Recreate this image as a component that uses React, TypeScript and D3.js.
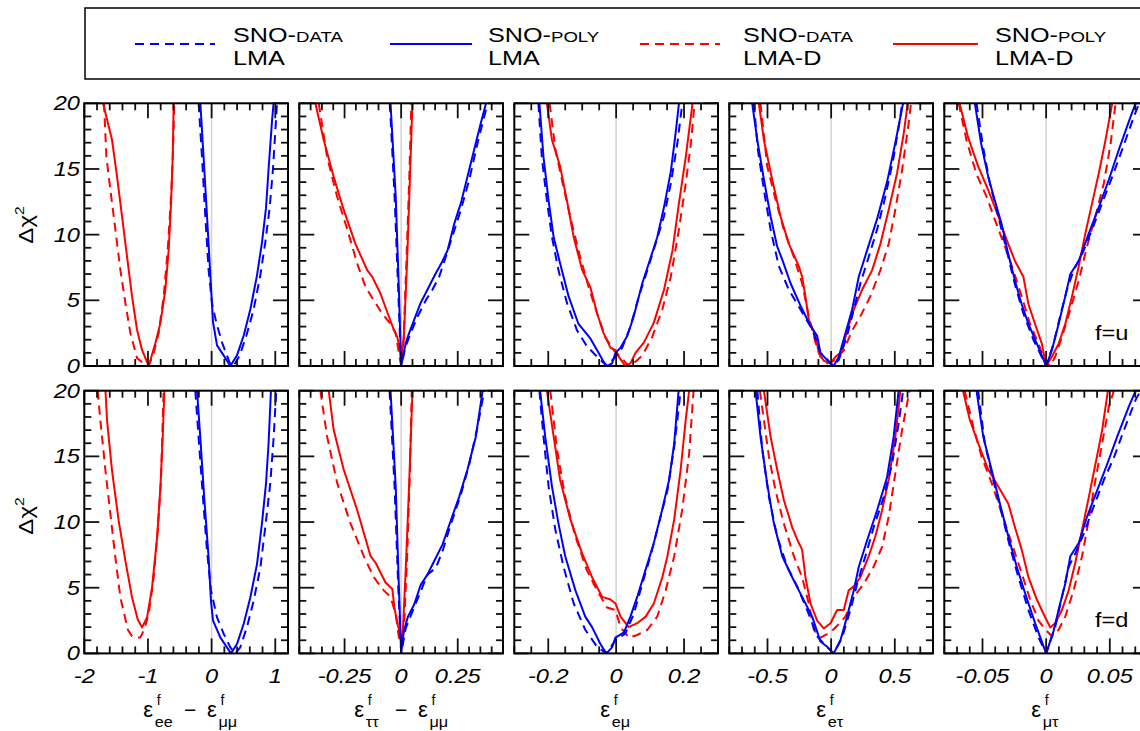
import React from 'react';
import * as d3 from 'd3';

type Pt = [number, number];

// ---------- axis definitions ----------
const panelDomains: [number, number][] = [[-2, 1.2], [-0.45, 0.45], [-0.3, 0.3], [-0.8, 0.8], [-0.08, 0.08]];
const minorSteps = [0.2, 0.05, 0.05, 0.1, 0.01];
const majorSteps = [1, 0.25, 0.2, 0.5, 0.05];
const xTickValues = [[-2, -1, 0, 1], [-0.25, 0, 0.25], [-0.2, 0, 0.2], [-0.5, 0, 0.5], [-0.05, 0, 0.05]];
const xTickLabels = [["-2", "-1", "0", "1"], ["-0.25", "0", "0.25"], ["-0.2", "0", "0.2"], ["-0.5", "0", "0.5"], ["-0.05", "0", "0.05"]];
const yTickValues = [0, 5, 10, 15, 20];
const yTickLabels = ["0", "5", "10", "15", "20"];
const rowLabels = ["f=u", "f=d"];
const xTitleSubs = [["ee", "μμ"], ["ττ", "μμ"], ["eμ"], ["eτ"], ["μτ"]];
const legendTop = ["SNO-", "SNO-", "SNO-", "SNO-"];
const legendSmall = ["DATA", "POLY", "DATA", "POLY"];
const legendBottom = ["LMA", "LMA", "LMA-D", "LMA-D"];

// ---------- data: f = u (top row) ----------
const u_ee_data_lma: Pt[] = [[-0.204,20],[-0.151,15.9],[-0.099,11.4],[-0.047,7.3],[0.006,4.8],[0.074,3.3],[0.163,1.8],[0.294,0.13],[0.345,0],[0.44,0.8],[0.545,2.3],[0.66,4.3],[0.765,6.9],[0.843,9.4],[0.911,12],[0.964,15],[1.01,18.6],[1.027,20]];
const u_ee_poly_lma: Pt[] = [[-0.177,20],[-0.126,15.9],[-0.072,11.4],[-0.02,6.9],[0.022,3.35],[0.085,1.57],[0.189,0.81],[0.294,0],[0.398,0.81],[0.503,2.3],[0.608,4.3],[0.713,6.9],[0.791,9.4],[0.854,12],[0.895,15],[0.948,18.6],[0.973,20]];
const u_ee_data_lmad: Pt[] = [[-1.69,20],[-1.653,15.9],[-1.59,13.4],[-1.512,10.4],[-1.433,7.3],[-1.355,4.8],[-1.276,2.5],[-1.171,0.6],[-1.067,0.2],[-0.989,0],[-0.91,0.97],[-0.832,2.5],[-0.753,5.3],[-0.69,8.8],[-0.637,12.9],[-0.606,16.4],[-0.586,20]];
const u_ee_poly_lmad: Pt[] = [[-1.705,20],[-1.564,17.2],[-1.485,14.4],[-1.407,11.4],[-1.328,8.3],[-1.25,5.3],[-1.171,2.74],[-1.093,1.22],[-0.989,0],[-0.884,1.73],[-0.805,3.25],[-0.727,5.8],[-0.675,8.8],[-0.637,12.4],[-0.611,15.9],[-0.596,20]];

const u_tt_data_lma: Pt[] = [[-0.05,20],[-0.029,12.9],[-0.013,5.8],[-0.003,1.2],[0,0],[0.02,1.5],[0.042,2.5],[0.072,3.75],[0.109,5.0],[0.138,5.8],[0.168,6.8],[0.197,8.3],[0.227,9.9],[0.264,11.9],[0.301,14.2],[0.338,17],[0.382,20]];
const u_tt_poly_lma: Pt[] = [[-0.047,20],[-0.024,12.9],[-0.01,5.8],[0,0],[0.02,1.7],[0.035,2.5],[0.057,3.5],[0.086,4.8],[0.116,5.8],[0.145,6.8],[0.183,8.0],[0.205,8.8],[0.234,10.8],[0.264,12.4],[0.293,14.4],[0.323,16.5],[0.352,18.5],[0.375,20]];
const u_tt_data_lmad: Pt[] = [[-0.364,20],[-0.327,15.9],[-0.283,12.9],[-0.238,10.4],[-0.194,7.8],[-0.157,6.0],[-0.121,5.0],[-0.084,4.0],[-0.047,3.2],[-0.024,2.5],[-0.01,0.97],[0,0],[0.01,1.7],[0.024,8.3],[0.036,14.4],[0.045,20]];
const u_tt_poly_lmad: Pt[] = [[-0.379,20],[-0.342,17.2],[-0.298,14.4],[-0.254,11.9],[-0.202,9.3],[-0.15,7.3],[-0.128,6.8],[-0.091,5.5],[-0.054,3.75],[-0.032,2.74],[-0.017,2.2],[-0.005,1.2],[0,0.2],[0.012,2.2],[0.027,8.3],[0.039,14.4],[0.05,20]];

const u_em_data_lma: Pt[] = [[-0.229,20],[-0.219,15.9],[-0.204,12.6],[-0.189,9.8],[-0.17,7.3],[-0.145,4.8],[-0.115,2.7],[-0.086,1.5],[-0.056,0.7],[-0.027,0],[-0.002,0.7],[0.018,1.4],[0.042,3.0],[0.067,5.3],[0.092,7.3],[0.116,9.3],[0.141,11.4],[0.161,13.9],[0.18,16.9],[0.195,20]];
const u_em_poly_lma: Pt[] = [[-0.226,20],[-0.214,15.9],[-0.199,12.6],[-0.184,9.8],[-0.165,7.8],[-0.14,5.3],[-0.111,3.2],[-0.076,2.1],[-0.056,1.2],[-0.037,0.33],[-0.027,0],[-0.012,0.2],[-0.002,1.0],[0.013,1.4],[0.033,2.3],[0.052,3.8],[0.077,6.3],[0.096,7.8],[0.121,9.8],[0.141,12.1],[0.161,14.8],[0.175,17.7],[0.185,20]];
const u_em_data_lmad: Pt[] = [[-0.196,20],[-0.179,16.5],[-0.155,13.6],[-0.13,10.8],[-0.106,8.3],[-0.081,6.0],[-0.056,4.0],[-0.032,2.2],[-0.007,1.2],[0.013,0.7],[0.037,0],[0.057,0.33],[0.077,0.8],[0.106,2.2],[0.136,4.3],[0.161,6.8],[0.185,10.4],[0.205,13.9],[0.22,16.9],[0.231,20]];
const u_em_poly_lmad: Pt[] = [[-0.204,20],[-0.189,17.2],[-0.165,15.2],[-0.145,12.6],[-0.125,9.8],[-0.1,7.3],[-0.076,6.0],[-0.056,4.0],[-0.037,2.5],[-0.017,1.4],[-0.002,1.2],[0.008,0.7],[0.027,0],[0.042,0.2],[0.057,1.0],[0.082,1.8],[0.111,3.3],[0.141,5.8],[0.166,8.8],[0.185,12.4],[0.205,15.9],[0.225,20]];

const u_et_data_lma: Pt[] = [[-0.607,20],[-0.576,16.5],[-0.528,13.4],[-0.476,10.4],[-0.411,7.6],[-0.332,5.8],[-0.241,4.3],[-0.149,2.8],[-0.084,1.0],[-0.031,0.5],[0.008,0],[0.06,0.46],[0.125,2.3],[0.178,4.3],[0.23,6.3],[0.295,8.3],[0.361,10.4],[0.426,12.9],[0.491,15.9],[0.544,19],[0.557,20]];
const u_et_poly_lma: Pt[] = [[-0.62,20],[-0.58,17.2],[-0.528,14.2],[-0.476,11.4],[-0.424,9.1],[-0.384,8.1],[-0.319,6.3],[-0.241,4.6],[-0.162,3.05],[-0.11,2.3],[-0.084,1.0],[-0.031,0.45],[0.02,0],[0.06,0.71],[0.112,2.5],[0.165,4.3],[0.217,6.8],[0.282,8.8],[0.361,11.2],[0.439,14],[0.504,17],[0.565,20]];
const u_et_data_lmad: Pt[] = [[-0.555,20],[-0.502,15.2],[-0.437,12.7],[-0.372,10.4],[-0.293,8.3],[-0.228,6.3],[-0.176,3.8],[-0.123,1.8],[-0.084,0.7],[-0.031,0.2],[0.034,0.46],[0.099,1.2],[0.165,2.7],[0.23,3.8],[0.308,5.3],[0.387,7.3],[0.452,9.3],[0.504,11.9],[0.557,14.9],[0.609,18.5],[0.627,20]];
const u_et_poly_lmad: Pt[] = [[-0.568,20],[-0.528,17.2],[-0.463,14.2],[-0.398,11.4],[-0.332,9.3],[-0.254,7.6],[-0.228,6.8],[-0.202,5.3],[-0.176,3.55],[-0.123,2.3],[-0.097,1.0],[-0.058,0.4],[-0.005,0.2],[0.034,0.7],[0.086,1.1],[0.125,2.7],[0.178,4.3],[0.243,5.8],[0.322,7.3],[0.387,9.3],[0.452,11.9],[0.518,14.7],[0.57,17.7],[0.601,20]];

const u_mt_data_lma: Pt[] = [[-0.0547,20],[-0.0494,16.6],[-0.0442,13.9],[-0.0376,11.4],[-0.031,8.8],[-0.0245,6.2],[-0.0179,4.0],[-0.01,2.0],[0,0],[0.0058,1.7],[0.011,3.8],[0.0163,5.8],[0.0216,7.3],[0.0282,8.5],[0.0361,10.4],[0.044,12.4],[0.0519,14.4],[0.0598,16.5],[0.069,19],[0.073,20]];
const u_mt_poly_lma: Pt[] = [[-0.056,20],[-0.051,16.9],[-0.0455,14.4],[-0.0403,12.6],[-0.035,10.8],[-0.0297,8.5],[-0.0245,6.5],[-0.0192,4.7],[-0.0139,3.2],[-0.0073,1.7],[0,0],[0.0045,1.2],[0.0098,3.2],[0.015,5.3],[0.019,7.0],[0.0256,8.0],[0.0335,10.1],[0.0414,12.1],[0.0493,14.2],[0.0572,16.5],[0.0664,19],[0.0703,20]];
const u_mt_data_lmad: Pt[] = [[-0.0687,20],[-0.0626,17.2],[-0.0547,14.6],[-0.0468,12.9],[-0.039,10.8],[-0.0324,9.1],[-0.0258,7.3],[-0.0192,5.3],[-0.0126,3.2],[-0.006,1.7],[-0.0013,0.46],[0.0032,0],[0.0071,0.7],[0.0124,2.2],[0.019,4.3],[0.0256,6.5],[0.0321,9.1],[0.0387,11.4],[0.0453,13.9],[0.0506,16.9],[0.0545,20]];
const u_mt_poly_lmad: Pt[] = [[-0.068,20],[-0.0613,17.4],[-0.0534,15.2],[-0.0455,13.4],[-0.0376,11.4],[-0.031,9.6],[-0.0245,8.0],[-0.0179,6.8],[-0.0139,4.7],[-0.0087,3.2],[-0.0034,1.7],[0,0],[0.0045,0.7],[0.0098,1.7],[0.015,3.2],[0.0203,5.3],[0.0256,7.6],[0.0308,10.1],[0.0361,12.4],[0.0414,14.7],[0.0466,17.2],[0.0519,20]];

// ---------- data: f = d (bottom row) ----------
const d_ee_data_lma: Pt[] = [[-0.256,20],[-0.204,16.4],[-0.135,11.8],[-0.072,7.8],[-0.01,4.8],[0.085,2.74],[0.189,1.5],[0.294,0.46],[0.372,0],[0.45,0.46],[0.555,2],[0.66,4],[0.765,6.5],[0.843,9.6],[0.921,12.9],[0.974,16.4],[1.016,20]];
const d_ee_poly_lma: Pt[] = [[-0.229,20],[-0.177,16.4],[-0.115,11.8],[-0.047,7.3],[-0.01,4.0],[0.022,2.5],[0.137,1.22],[0.241,0.46],[0.304,0],[0.398,0.71],[0.503,2.24],[0.608,4.26],[0.713,6.8],[0.791,9.9],[0.854,12.9],[0.895,16],[0.932,20]];
const d_ee_data_lmad: Pt[] = [[-1.79,20],[-1.747,17.7],[-1.667,13.9],[-1.59,10.6],[-1.512,7.3],[-1.433,4.26],[-1.314,1.78],[-1.25,1.3],[-1.171,1.22],[-1.119,1.22],[-1.056,1.85],[-0.989,3.0],[-0.91,5.8],[-0.847,9.3],[-0.795,13.2],[-0.754,20]];
const d_ee_poly_lmad: Pt[] = [[-1.667,20],[-1.642,17.7],[-1.564,13.9],[-1.46,10.1],[-1.355,7.06],[-1.25,4.26],[-1.161,2.6],[-1.093,1.98],[-1.014,2.74],[-0.936,5.0],[-0.857,8.8],[-0.805,12.6],[-0.769,16.4],[-0.742,20]];

const d_tt_data_lma: Pt[] = [[-0.051,20],[-0.029,12.7],[-0.013,5.1],[-0.003,1.2],[0,0],[0.02,1.9],[0.05,3.2],[0.086,4.7],[0.116,6.0],[0.153,6.5],[0.183,7.8],[0.219,9.8],[0.264,12.1],[0.301,14.4],[0.338,17.3],[0.367,20]];
const d_tt_poly_lma: Pt[] = [[-0.047,20],[-0.024,12.7],[-0.01,5.1],[0,0],[0.012,1.7],[0.03,2.8],[0.057,3.7],[0.086,5.2],[0.116,6.0],[0.145,7.0],[0.183,8.3],[0.219,10.1],[0.256,11.9],[0.293,14],[0.33,16.5],[0.36,20]];
const d_tt_data_lmad: Pt[] = [[-0.357,20],[-0.327,16.5],[-0.283,13],[-0.224,9.9],[-0.165,7.4],[-0.121,5.8],[-0.077,4.8],[-0.047,4.3],[-0.024,3.0],[-0.01,1.2],[0,1.0],[0.012,1.7],[0.027,7.6],[0.039,14],[0.047,20]];
const d_tt_poly_lmad: Pt[] = [[-0.32,20],[-0.298,17],[-0.254,14],[-0.194,10.9],[-0.135,7.4],[-0.113,6.9],[-0.069,5.4],[-0.039,4.9],[-0.029,3.4],[-0.014,2.1],[0,1.2],[0.007,1.5],[0.02,6.3],[0.035,12.7],[0.05,20]];

const d_em_data_lma: Pt[] = [[-0.226,20],[-0.214,16.5],[-0.199,12.7],[-0.179,9.4],[-0.155,6.6],[-0.125,3.8],[-0.091,1.8],[-0.056,0.5],[-0.029,0],[-0.002,1.0],[0.027,1.5],[0.052,3.0],[0.077,5.3],[0.101,7.4],[0.126,9.9],[0.151,12.4],[0.171,15.7],[0.19,20]];
const d_em_poly_lma: Pt[] = [[-0.224,20],[-0.209,16.5],[-0.189,12.7],[-0.17,9.9],[-0.15,7.4],[-0.12,4.8],[-0.091,2.8],[-0.071,2.0],[-0.046,0.7],[-0.029,0],[-0.012,0.46],[-0.002,1.2],[0.023,1.6],[0.042,2.8],[0.062,4.3],[0.087,6.4],[0.111,8.4],[0.136,11],[0.156,13.2],[0.171,16],[0.184,20]];
const d_em_data_lmad: Pt[] = [[-0.194,20],[-0.174,15.5],[-0.15,11.9],[-0.12,8.9],[-0.086,6.3],[-0.056,4.8],[-0.027,3.5],[-0.002,3.3],[0.013,2.0],[0.037,1.2],[0.062,1.4],[0.092,1.8],[0.121,2.8],[0.146,4.8],[0.171,7.4],[0.195,11],[0.215,15.2],[0.228,20]];
const d_em_poly_lmad: Pt[] = [[-0.204,20],[-0.184,16.5],[-0.165,13.2],[-0.135,10.2],[-0.1,7.6],[-0.071,5.8],[-0.041,4.3],[-0.017,4.1],[-0.002,3.8],[0.013,2.8],[0.037,2.0],[0.062,2.3],[0.087,2.8],[0.111,3.8],[0.136,5.8],[0.151,7.4],[0.171,10.2],[0.19,14],[0.205,17.8],[0.215,20]];

const d_et_data_lma: Pt[] = [[-0.58,20],[-0.541,15.5],[-0.489,11.9],[-0.424,8.9],[-0.345,6.6],[-0.267,5.1],[-0.188,3.3],[-0.11,1.3],[-0.044,0.6],[0.02,0],[0.086,1.2],[0.151,3.3],[0.204,5.3],[0.269,7.4],[0.334,9.6],[0.413,11.9],[0.478,14.4],[0.53,17.5],[0.565,20]];
const d_et_poly_lma: Pt[] = [[-0.594,20],[-0.555,16.5],[-0.502,12.9],[-0.45,9.9],[-0.384,7.4],[-0.306,5.8],[-0.228,4.3],[-0.149,2.8],[-0.084,0.9],[-0.031,0.5],[0.02,0],[0.073,1.0],[0.125,2.8],[0.178,4.8],[0.217,6.6],[0.282,8.6],[0.361,10.9],[0.439,13.4],[0.491,16.5],[0.53,20]];
const d_et_data_lmad: Pt[] = [[-0.56,20],[-0.489,15],[-0.437,12.4],[-0.372,9.9],[-0.293,7.4],[-0.228,5.8],[-0.176,3.8],[-0.136,1.8],[-0.084,1.2],[-0.005,1.6],[0.047,2.1],[0.112,2.8],[0.178,4.3],[0.256,5.3],[0.334,6.6],[0.4,8.1],[0.452,10.4],[0.504,13.7],[0.557,17],[0.596,19],[0.616,20]];
const d_et_poly_lmad: Pt[] = [[-0.528,20],[-0.476,16.5],[-0.424,14],[-0.372,11.7],[-0.306,9.6],[-0.254,8.4],[-0.228,7.9],[-0.202,5.8],[-0.162,3.8],[-0.11,2.5],[-0.058,1.9],[-0.005,2.3],[0.047,3.3],[0.099,3.3],[0.138,4.8],[0.178,5.1],[0.23,5.8],[0.295,7.4],[0.347,8.9],[0.4,10.9],[0.452,13.2],[0.504,16.5],[0.544,20]];

const d_mt_data_lma: Pt[] = [[-0.0534,20],[-0.0482,16],[-0.0416,13.2],[-0.035,10.7],[-0.0284,8.1],[-0.0218,5.8],[-0.0139,3.3],[-0.006,1.2],[0,0],[0.0071,2.0],[0.0124,4.3],[0.0177,6.6],[0.0229,7.6],[0.0295,9.1],[0.0374,11.2],[0.0453,13.2],[0.0532,14.9],[0.0611,17],[0.0703,19.3],[0.0742,20]];
const d_mt_poly_lma: Pt[] = [[-0.0547,20],[-0.0494,16.5],[-0.0429,14],[-0.0363,11.4],[-0.0297,8.9],[-0.0231,6.6],[-0.0166,4.6],[-0.0087,2.3],[0,0],[0.0058,1.7],[0.011,3.8],[0.015,5.3],[0.019,7.4],[0.0256,8.4],[0.0321,10.4],[0.04,12.4],[0.0479,14.4],[0.0558,16.5],[0.065,18.8],[0.0703,20]];
const d_mt_data_lmad: Pt[] = [[-0.064,20],[-0.0573,17.3],[-0.0508,15],[-0.0429,13],[-0.035,10.7],[-0.0271,8.4],[-0.0192,6.1],[-0.0126,4.1],[-0.006,2.5],[-0.0013,1.9],[0.0045,1.3],[0.0098,1.8],[0.015,2.8],[0.0216,4.8],[0.0282,7.4],[0.0335,10.2],[0.0387,13.2],[0.044,16],[0.0493,18.8],[0.0532,20]];
const d_mt_poly_lmad: Pt[] = [[-0.0653,20],[-0.06,17.8],[-0.0534,16],[-0.0455,14],[-0.0376,12.7],[-0.0297,11.4],[-0.0245,9.6],[-0.0192,7.9],[-0.0139,5.8],[-0.0073,4.1],[-0.002,3.0],[0.0032,1.98],[0.0071,2.3],[0.0124,3.3],[0.0177,4.8],[0.0229,6.9],[0.0282,9.4],[0.0335,11.9],[0.0387,14.4],[0.044,17],[0.0485,20]];

// order inside each panel: [data LMA, poly LMA, data LMA-D, poly LMA-D]
const rows: Pt[][][][] = [
  [
    [u_ee_data_lma, u_ee_poly_lma, u_ee_data_lmad, u_ee_poly_lmad],
    [u_tt_data_lma, u_tt_poly_lma, u_tt_data_lmad, u_tt_poly_lmad],
    [u_em_data_lma, u_em_poly_lma, u_em_data_lmad, u_em_poly_lmad],
    [u_et_data_lma, u_et_poly_lma, u_et_data_lmad, u_et_poly_lmad],
    [u_mt_data_lma, u_mt_poly_lma, u_mt_data_lmad, u_mt_poly_lmad],
  ],
  [
    [d_ee_data_lma, d_ee_poly_lma, d_ee_data_lmad, d_ee_poly_lmad],
    [d_tt_data_lma, d_tt_poly_lma, d_tt_data_lmad, d_tt_poly_lmad],
    [d_em_data_lma, d_em_poly_lma, d_em_data_lmad, d_em_poly_lmad],
    [d_et_data_lma, d_et_poly_lma, d_et_data_lmad, d_et_poly_lmad],
    [d_mt_data_lma, d_mt_poly_lma, d_mt_data_lmad, d_mt_poly_lmad],
  ],
];

// ---------- style / layout ----------
const seriesColor = ['#0000ff', '#0000ff', '#ff0000', '#ff0000'];
const seriesDashed = [true, false, true, false];
const drawOrder = [2, 3, 0, 1];
const W = 1140, H = 731;
const PX0 = 84.3, PSTEP = 215, PW = 203.7;
const ROW_TOP = [103.3, 390.7], PH = 262.7;
const FONT = "'Liberation Sans', Arial, Helvetica, sans-serif";
const STRETCH = 1.18;
const titleCenters = [190, 401, 615, 831, 1046];
const yLabelCenters = [225, 516];

function ticksFor(domain: [number, number], step: number) {
  const a = Math.ceil(domain[0] / step - 1e-9), b = Math.floor(domain[1] / step + 1e-9);
  return d3.range(a, b + 1).map(i => +(i * step).toFixed(6));
}
const isMult = (v: number, s: number) => Math.abs(v / s - Math.round(v / s)) < 1e-6;

function STxt({ x, y, children, anchor = 'middle', size = 20, italic = true, sx = STRETCH }: any) {
  return (
    <text transform={`translate(${x},${y}) scale(${sx},1)`} textAnchor={anchor} fontSize={size}
      fontStyle={italic ? 'italic' : 'normal'} fontFamily={FONT} fill="#000">{children}</text>
  );
}

function XTitle({ center, subs }: { center: number; subs: string[] }) {
  const epsW = 11.5, subW = (s: string) => s.length * 8.6, gap = 11, minusW = 12;
  const termW = (s: string) => epsW + subW(s) + 1;
  const total = subs.reduce((acc, s, i) => acc + termW(s) + (i > 0 ? gap * 2 + minusW : 0), 0);
  let cur = center - total / 2;
  const els: any[] = [];
  subs.forEach((s, i) => {
    if (i > 0) {
      cur += gap;
      els.push(<text key={'m' + i} x={cur} y={717} fontSize={21} fontFamily={FONT}>−</text>);
      cur += minusW + gap;
    }
    els.push(<text key={'e' + i} x={cur} y={717} fontSize={22} fontFamily={FONT}>ε</text>);
    els.push(<text key={'f' + i} x={cur + epsW + 2} y={705} fontSize={14} fontFamily={FONT}>f</text>);
    els.push(<text key={'s' + i} transform={`translate(${cur + epsW},727) scale(1.12,1)`} fontSize={14.5} fontFamily={FONT}>{s}</text>);
    cur += termW(s);
  });
  return <g>{els}</g>;
}

function Panel({ r, c }: { r: number; c: number }) {
  const x0 = PX0 + c * PSTEP, y0 = ROW_TOP[r];
  const x = d3.scaleLinear().domain(panelDomains[c]).range([x0, x0 + PW]);
  const y = d3.scaleLinear().domain([0, 20]).range([y0 + PH, y0]);
  const line = d3.line<Pt>().x(d => x(d[0])).y(d => y(d[1]));
  const xMinor = ticksFor(panelDomains[c], minorSteps[c]);
  const yMinor = ticksFor([0, 20], 1);
  const MAJ = 15, MIN = 7;
  const clipId = `clip-${r}-${c}`;
  const curves = rows[r][c];
  return (
    <g>
      <defs>
        <clipPath id={clipId}><rect x={x0} y={y0} width={PW} height={PH} /></clipPath>
      </defs>
      <line x1={x(0)} x2={x(0)} y1={y0} y2={y0 + PH} stroke="#d4d4d4" strokeWidth={1.5} />
      <g clipPath={`url(#${clipId})`}>
        {drawOrder.map(k => (
          <path key={k} d={line(curves[k]) || ''} fill="none" stroke={seriesColor[k]} strokeWidth={2}
            strokeDasharray={seriesDashed[k] ? '9,6' : undefined} strokeLinejoin="round" />
        ))}
      </g>
      <g stroke="#111" strokeWidth={1.8}>
        {xMinor.map(v => {
          const L = isMult(v, majorSteps[c]) ? MAJ : MIN;
          return (
            <g key={'x' + v}>
              <line x1={x(v)} x2={x(v)} y1={y0 + PH} y2={y0 + PH - L} />
              <line x1={x(v)} x2={x(v)} y1={y0} y2={y0 + L} />
            </g>
          );
        })}
        {yMinor.map(v => {
          const L = isMult(v, 5) ? MAJ : MIN;
          return (
            <g key={'y' + v}>
              <line x1={x0} x2={x0 + L} y1={y(v)} y2={y(v)} />
              <line x1={x0 + PW} x2={x0 + PW - L} y1={y(v)} y2={y(v)} />
            </g>
          );
        })}
      </g>
      <rect x={x0} y={y0} width={PW} height={PH} fill="none" stroke="#000" strokeWidth={2} />
      {r === 1 && xTickValues[c].map((v, i) => (
        <STxt key={'xl' + i} x={x(v)} y={683}>{xTickLabels[c][i]}</STxt>
      ))}
      {c === 0 && yTickValues.map((v, i) => (
        <STxt key={'yl' + i} x={80} y={y(v) + 7} anchor="end">{yTickLabels[i]}</STxt>
      ))}
      {c === 0 && (
        <text transform={`translate(33,${yLabelCenters[r]}) rotate(-90) scale(1.2,1)`} textAnchor="middle"
          fontSize={20} fontFamily={FONT}>Δχ<tspan dy={-9} fontSize={13}>2</tspan></text>
      )}
      {c === 4 && (
        <STxt x={1095} y={r === 0 ? 340 : 627} anchor="start" italic={false}>{rowLabels[r]}</STxt>
      )}
      {r === 1 && <XTitle center={titleCenters[c]} subs={xTitleSubs[c]} />}
    </g>
  );
}

function Legend() {
  const lineX = [[135, 215], [390, 472], [640, 720], [893, 978]];
  const textX = [233, 488, 743, 995];
  return (
    <g>
      <rect x={85} y={8} width={1100} height={71} fill="#fff" stroke="#000" strokeWidth={1.5} />
      {[0, 1, 2, 3].map(k => (
        <g key={k}>
          <line x1={lineX[k][0]} x2={lineX[k][1]} y1={44} y2={44} stroke={seriesColor[k]} strokeWidth={2}
            strokeDasharray={seriesDashed[k] ? '9,6' : undefined} />
          <text transform={`translate(${textX[k]},42) scale(1.2,1)`} fontSize={21} fontFamily={FONT}>
            {legendTop[k]}<tspan fontSize={15.5}>{legendSmall[k]}</tspan>
          </text>
          <text transform={`translate(${textX[k]},65) scale(1.2,1)`} fontSize={21} fontFamily={FONT}>{legendBottom[k]}</text>
        </g>
      ))}
    </g>
  );
}

export default function App() {
  return (
    <svg width={W} height={H} style={{ position: 'absolute', left: 0, top: 0, background: '#fff' }}>
      <rect x={0} y={0} width={W} height={H} fill="#fff" />
      <Legend />
      {[0, 1].map(r => [0, 1, 2, 3, 4].map(c => <Panel key={`${r}-${c}`} r={r} c={c} />))}
    </svg>
  );
}
